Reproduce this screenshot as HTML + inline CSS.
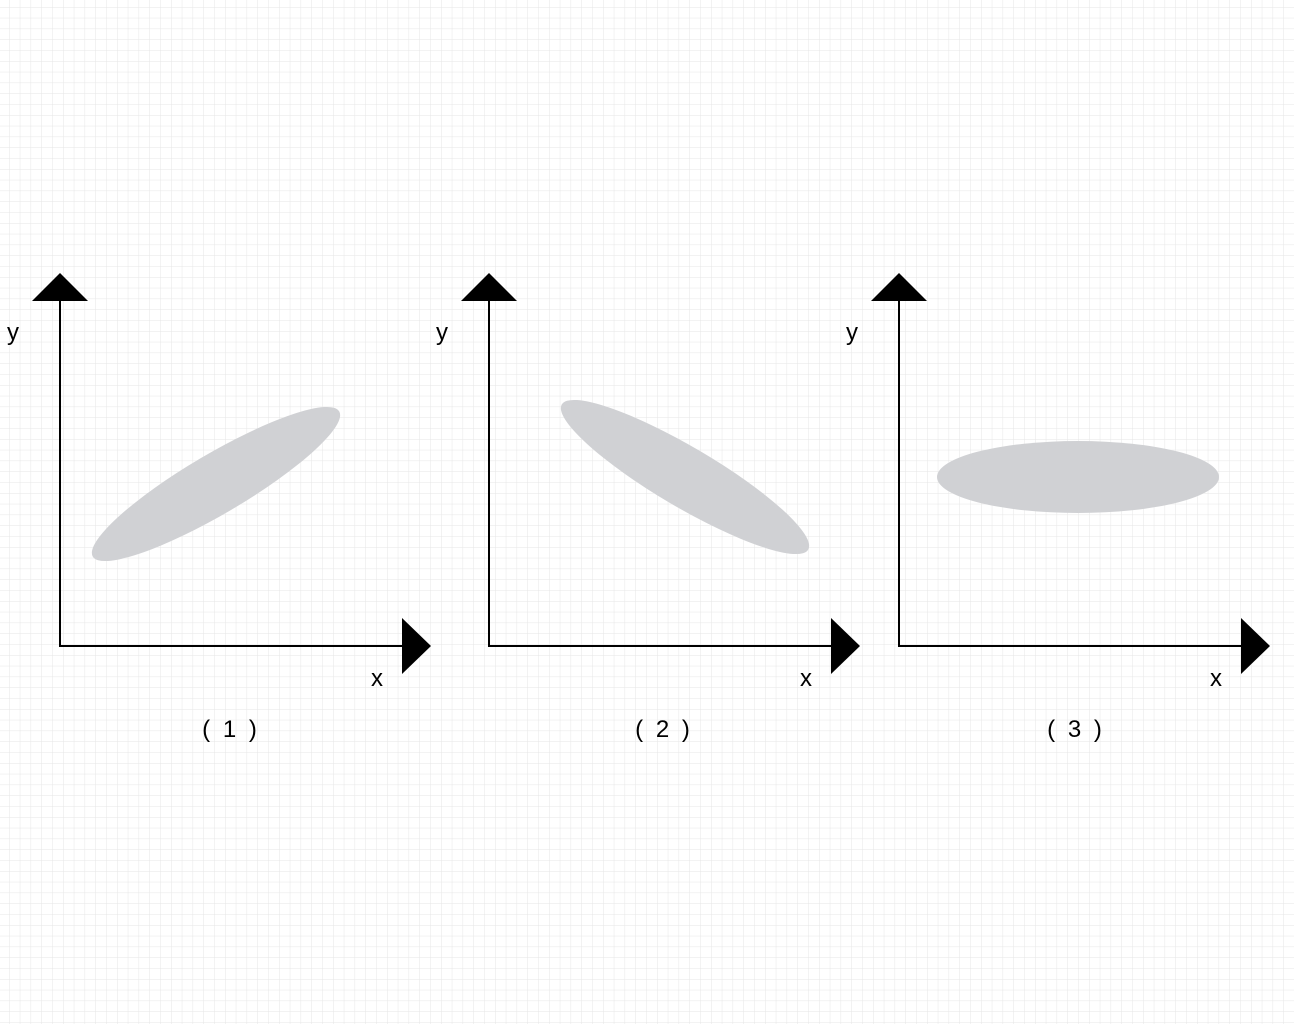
<!DOCTYPE html>
<html><head><meta charset="utf-8"><style>
body{margin:0;width:1294px;height:1024px;overflow:hidden;background:#fff}
</style></head><body>
<svg width="1294" height="1024" xmlns="http://www.w3.org/2000/svg">
<defs><pattern id="g" x="9" y="7" width="10.8" height="10.8" patternUnits="userSpaceOnUse">
<path d="M0 0H10.8M0 0V10.8" stroke="#e6e6e6" stroke-width="1" fill="none"/></pattern></defs>
<rect width="1294" height="1024" fill="url(#g)"/>
<g id="panels" font-family="Liberation Sans, sans-serif" font-size="24"></g>
</svg>
<script>
const panelOrigins=[60,489,899];
const ellipseCx=[216,685,1078];
const ellipseCy=[484,477,477];
const ellipseRx=[143,143,141];
const ellipseRy=[30,30,36];
const ellipseAngle=[-30.5,30.5,0];
const captions=["( 1 )","( 2 )","( 3 )"];
const captionOffset=[171,175,177];
const NS="http://www.w3.org/2000/svg";
const root=document.getElementById('panels');
function mk(t,a){const e=document.createElementNS(NS,t);for(const k in a)e.setAttribute(k,a[k]);return e;}
panelOrigins.forEach((ox,i)=>{
  const g=mk('g',{});
  
  
  const el=mk('ellipse',{cx:ellipseCx[i],cy:ellipseCy[i],rx:ellipseRx[i],ry:ellipseRy[i],fill:'#d0d1d4',transform:`rotate(${ellipseAngle[i]} ${ellipseCx[i]} ${ellipseCy[i]})`});
  
  
  g.appendChild(el);
  const ax=mk('path',{d:`M${ox} 300V646H${ox+343}`,stroke:'#000','stroke-width':2,fill:'none'});
  
  
  g.appendChild(ax);
  const ya=mk('polygon',{points:`${ox},273 ${ox-28},301 ${ox+28},301`,fill:'#000'});
  
  
  g.appendChild(ya);
  const xa=mk('polygon',{points:`${ox+342},618 ${ox+342},674 ${ox+371},646`,fill:'#000'});
  
  
  g.appendChild(xa);
  const yl=mk('text',{x:ox-53,y:340});yl.textContent='y';
  
  
  g.appendChild(yl);
  const xl=mk('text',{x:ox+311,y:686});xl.textContent='x';
  
  
  g.appendChild(xl);
  const c=mk('text',{x:ox+captionOffset[i],y:737,'text-anchor':'middle','letter-spacing':'3'});c.textContent=captions[i];
  
  
  g.appendChild(c);
  root.appendChild(g);
});
</script>
</body></html>
